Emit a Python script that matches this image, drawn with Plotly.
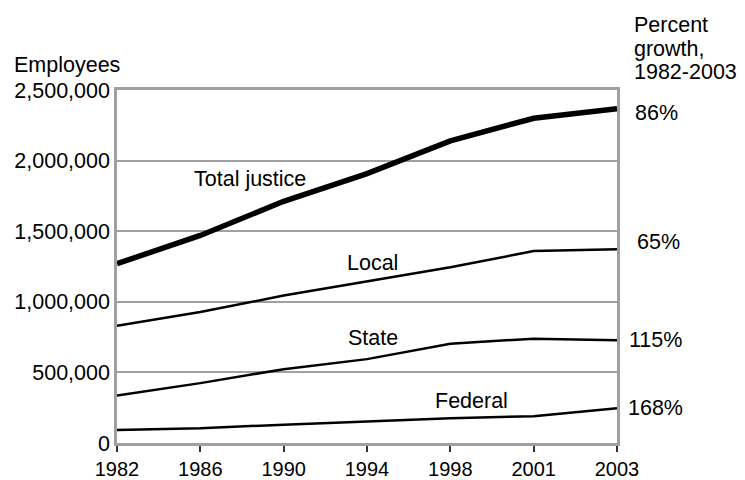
import plotly.graph_objects as go

years = ["1982", "1986", "1990", "1994", "1998", "2001", "2003"]
total = [1270000, 1470000, 1712000, 1908000, 2140000, 2300000, 2367000]
local = [831000, 928000, 1044000, 1146000, 1245000, 1359000, 1373000]
state = [336000, 424000, 523000, 594000, 703000, 739000, 727000]
federal = [92000, 104000, 130000, 154000, 175000, 190000, 246000]
series_names = ["Total justice", "Local", "State", "Federal"]
growth_labels = ["86%", "65%", "115%", "168%"]
growth_title = ["Percent", "growth,", "1982-2003"]
y_ticks = [0, 500000, 1000000, 1500000, 2000000, 2500000]

FONT = "Liberation Sans, Arial, Helvetica, sans-serif"
GRAY = "#a0a0a0"
FS = 21.5

fig = go.Figure()
all_series = [total, local, state, federal]
widths = [5.5, 2.5, 2.5, 2.5]
for name, vals, w in zip(series_names, all_series, widths):
    fig.add_trace(go.Scatter(x=years, y=vals, mode="lines", name=name,
                             line=dict(color="black", width=w),
                             showlegend=False, hoverinfo="skip"))

# series name labels (position: category index, value)
name_pos = [(1.6, 1870000), (3.07, 1275000), (3.07, 744000), (4.25, 297000)]
for name, (xi, yv) in zip(series_names, name_pos):
    fig.add_annotation(x=xi, y=yv, xref="x", yref="y", text=name, showarrow=False,
                       font=dict(size=FS, color="black", family=FONT))

# growth labels at right end
yshifts = [-4, 7, 0, 0]
xshifts = [16, 18, 10, 9]
for lab, vals, ys, xs in zip(growth_labels, all_series, yshifts, xshifts):
    fig.add_annotation(x=1, xref="paper", y=vals[-1], yref="y", text=lab,
                       showarrow=False, xanchor="left", xshift=xs, yshift=ys,
                       font=dict(size=FS, color="black", family=FONT))

fig.add_annotation(x=-0.21, xref="paper", y=1.071, yref="paper", text="Employees",
                   showarrow=False, xanchor="left", yanchor="middle",
                   font=dict(size=FS, color="black", family=FONT))
for line, yp in zip(growth_title, [1.184, 1.117, 1.051]):
    fig.add_annotation(x=1.03, xref="paper", y=yp, yref="paper", text=line,
                       showarrow=False, xanchor="left", yanchor="middle",
                       font=dict(size=FS, color="black", family=FONT))

fig.update_xaxes(type="category", range=[0, 6], showgrid=False, automargin=False,
                 showline=True, mirror=True, linecolor=GRAY, linewidth=2.5,
                 ticks="outside", tickcolor="#333333", tickwidth=1.5, ticklen=6,
                 ticklabelstandoff=0,
                 tickfont=dict(size=20, color="black", family=FONT))
fig.update_yaxes(range=[0, 2500000], tickvals=y_ticks, tickformat=",d", automargin=False,
                 showgrid=True, gridcolor=GRAY, gridwidth=2, zeroline=False,
                 showline=True, mirror=True, linecolor=GRAY, linewidth=2.5,
                 ticks="", ticklabelstandoff=0,
                 tickfont=dict(size=FS, color="black", family=FONT))

# body of the page has an 8px margin, so margins are offset to place the plot area
fig.update_layout(width=745, height=472, plot_bgcolor="white", paper_bgcolor="white",
                  margin=dict(l=109, r=136, t=82, b=37),
                  font=dict(family=FONT, size=FS, color="black"))

fig.write_html("out.html")
